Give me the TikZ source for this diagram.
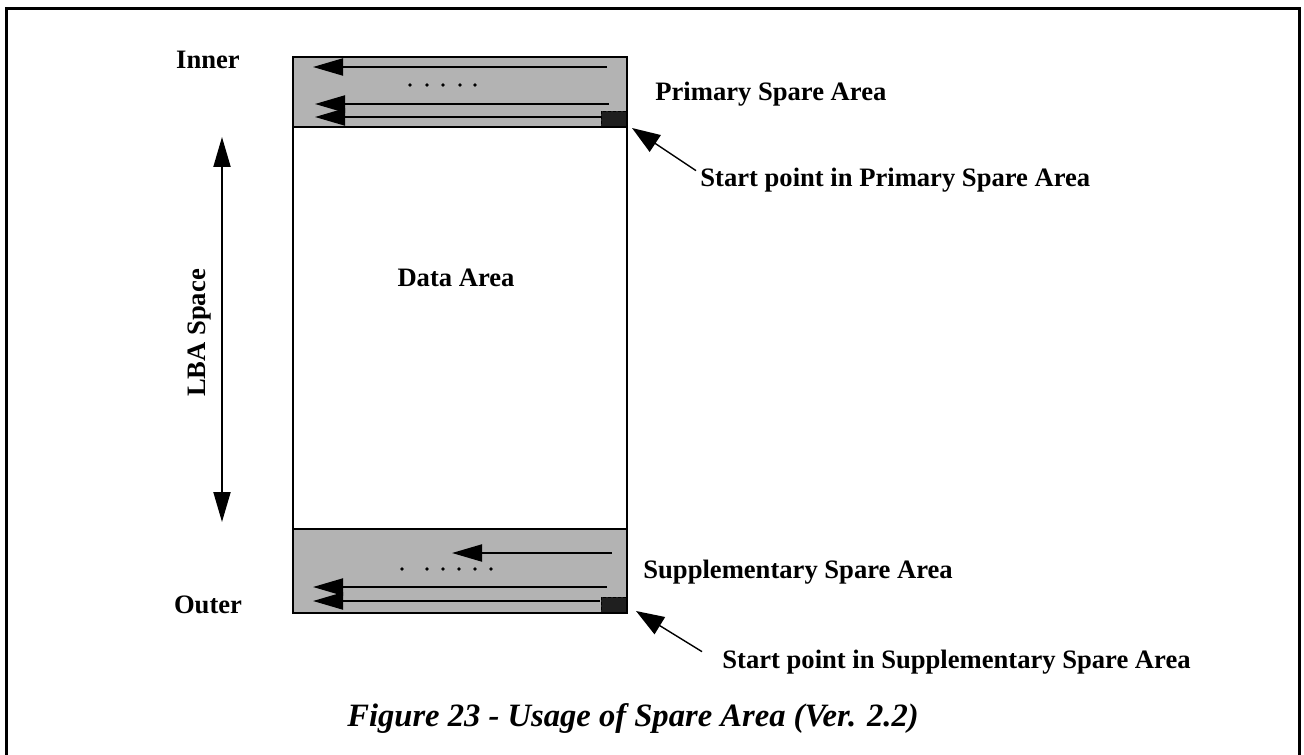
\documentclass[tikz,border=0pt]{standalone}
\usepackage{fontspec}
\setmainfont{Liberation Serif}
\usetikzlibrary{arrows.meta}
\definecolor{sparegray}{HTML}{B3B3B3}
\definecolor{startblk}{HTML}{1F1F1F}
\begin{document}
\begin{tikzpicture}[x=0.5pt,y=-0.5pt,
  lbl/.style={font=\fontsize{13.3pt}{15pt}\selectfont\bfseries, inner sep=0pt},
  capt/.style={font=\fontsize{16.3pt}{18pt}\selectfont\bfseries\itshape, inner sep=0pt},
  area/.style={draw=black, line width=1pt, inner sep=0pt, outer sep=0pt, minimum width=167pt, anchor=north west},
  spare/.style={area, fill=sparegray},
  startsq/.style={fill=startblk, draw=black, line width=0.6pt, dash pattern=on 1.5pt off 1pt, inner sep=0pt, minimum width=12.5pt, minimum height=7.5pt, anchor=south east},
  flow/.style={line width=1pt, -{Triangle[length=15pt,width=8.5pt]}},
  both/.style={line width=1pt, {Triangle[length=15pt,width=8.5pt]}-{Triangle[length=15pt,width=8.5pt]}},
  ptr/.style={line width=0.7pt, -{Triangle[length=14pt,width=10pt]}},
  dot/.style={circle, fill=black, inner sep=0pt, minimum size=1.9pt}
]
\useasboundingbox (0,0) rectangle (1304,754);
\clip (0,0) rectangle (1304,754);
% frame (open at the bottom)
\draw[line width=1.7pt] (6.5,780) -- (6.5,8.5) -- (1299.5,8.5) -- (1299.5,780);

% areas
\node[spare, minimum height=35pt] (psa) at (293,57) {};
\node[area, minimum height=201pt] (data) at (293,127) {};
\node[spare, minimum height=42pt] (ssa) at (293,529) {};

% start squares
\node[startsq] (pstart) at (627,127) {};
\node[startsq] (sstart) at (627,613) {};

% primary spare area arrows
\coordinate (p1s) at (607,67);  \coordinate (p1e) at (313,67);
\coordinate (p2s) at (609,104); \coordinate (p2e) at (315,104);
\coordinate (p3s) at (602,117); \coordinate (p3e) at (315,117);
\draw[flow] (p1s) -- (p1e);
\draw[flow] (p2s) -- (p2e);
\draw[flow] (p3s) -- (p3e);
\foreach \i/\x in {1/410,2/427,3/443,4/460,5/475}
  \node[dot] (pd\i) at (\x,85) {};

% supplementary spare area arrows
\coordinate (s1s) at (612,553); \coordinate (s1e) at (452,553);
\coordinate (s2s) at (607,587); \coordinate (s2e) at (313,587);
\coordinate (s3s) at (600,601); \coordinate (s3e) at (313,601);
\draw[flow] (s1s) -- (s1e);
\draw[flow] (s2s) -- (s2e);
\draw[flow] (s3s) -- (s3e);
\foreach \i/\x in {1/402,2/427,3/443,4/459,5/475,6/491}
  \node[dot] (sd\i) at (\x,569) {};

% LBA space arrow
\coordinate (lbatop) at (222,137);
\coordinate (lbabot) at (222,522);
\draw[both] (lbatop) -- (lbabot);
\node[lbl, rotate=90] (lba) at (200,333) {LBA Space};

% labels
\node[lbl] (inner) at (208,60) {Inner};
\node[lbl] (outer) at (208,605) {Outer};
\node[lbl] (dataL) at (456,278) {Data Area};
\node[lbl, anchor=base west] (psaL) at (655,101) {Primary Spare Area};
\node[lbl, anchor=base west] (ssaL) at (643,578) {Supplementary Spare Area};
\node[lbl, anchor=base west] (pspL) at (700,186) {Start point in Primary Spare Area};
\node[lbl, anchor=base west] (sspL) at (722,668) {Start point in Supplementary Spare Area};

% pointers
\coordinate (ptip) at (632,128);
\coordinate (stip) at (636,611);
\draw[ptr] (pspL.west) ++(-4,-9) coordinate (ptail) (ptail) -- (ptip);
\draw[ptr] (sspL.west) ++(-20,-10) coordinate (stail) (stail) -- (stip);

% caption
\node[capt] (cap) at (633,718) {Figure 23 - Usage of Spare Area (Ver. 2.2)};
\end{tikzpicture}
\end{document}
